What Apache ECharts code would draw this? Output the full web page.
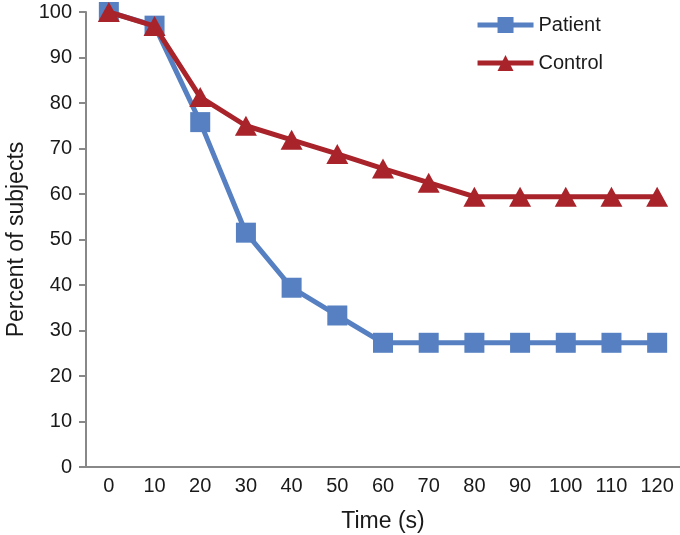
<!DOCTYPE html>
<html><head><meta charset="utf-8">
<script src="https://cdn.jsdelivr.net/npm/echarts@6/dist/echarts.min.js"></script>
<style>html,body{margin:0;padding:0;background:#fff}#c{width:680px;height:535px}</style>
</head><body><div id="c"></div>
<script>
const categories = ['0','10','20','30','40','50','60','70','80','90','100','110','120'];
const patient = [100, 97.0, 75.8, 51.5, 39.4, 33.3, 27.3, 27.3, 27.3, 27.3, 27.3, 27.3, 27.3];
const control = [100, 96.9, 81.3, 75.0, 71.9, 68.8, 65.6, 62.5, 59.4, 59.4, 59.4, 59.4, 59.4];
const yTicks = [0,10,20,30,40,50,60,70,80,90,100];

const chart = echarts.init(document.getElementById('c'));
const font = 'Liberation Sans, Arial, sans-serif';
const blue = '#5680C1', red = '#A8232A', ink = '#1a1a1a';
chart.setOption({
  animation: false,
  textStyle: {fontFamily: font},
  grid: {left: 86, right: 0, top: 12, bottom: 68, containLabel: false, outerBoundsMode: 'none'},
  legend: {
    right: 72, top: 10, orient: 'vertical', itemGap: 18,
    itemWidth: 56, itemHeight: 20,
    textStyle: {fontSize: 20, color: ink, fontFamily: font},
    lineStyle: {width: 5},
    data: ['Patient','Control']
  },
  xAxis: {
    type: 'category', data: categories, boundaryGap: true,
    name: 'Time (s)', nameLocation: 'middle', nameGap: 43,
    nameTextStyle: {fontSize: 23, color: ink},
    axisLine: {lineStyle: {color: '#888', width: 2}},
    axisTick: {show: false},
    axisLabel: {fontSize: 20, color: ink, margin: 9}
  },
  yAxis: {
    type: 'value', min: 0, max: 100, interval: 10,
    name: 'Percent of subjects', nameLocation: 'middle', nameGap: 58,
    nameTextStyle: {fontSize: 23, color: ink},
    axisLine: {show: true, lineStyle: {color: '#888', width: 2}},
    axisTick: {show: true, length: 7, lineStyle: {color: '#888', width: 2}},
    splitLine: {show: false},
    axisLabel: {fontSize: 20, color: ink, margin: 14,
      formatter: v => yTicks.includes(v) ? String(v) : ''}
  },
  series: [
    {name: 'Patient', type: 'line', data: patient, symbol: 'rect', symbolSize: 20,
     lineStyle: {width: 5, color: blue}, itemStyle: {color: blue}, z: 2},
    {name: 'Control', type: 'line', data: control, symbol: 'triangle', symbolSize: [22,20],
     lineStyle: {width: 5, color: red}, itemStyle: {color: red}, z: 3}
  ]
});
</script></body></html>
